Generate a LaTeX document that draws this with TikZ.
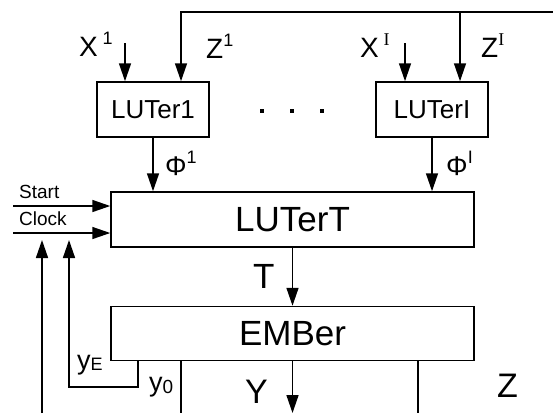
\documentclass[tikz,border=0pt]{standalone}
\usepackage{fontspec}
\setmainfont{Liberation Sans}
\newfontfamily\serifI{Liberation Serif}
\usetikzlibrary{arrows.meta,positioning}

\newcommand{\fsize}[1]{\fontsize{#1}{#1}\selectfont}
\newcommand{\upidx}[1]{\raisebox{0.42em}{\fsize{18}#1}}

\begin{document}
\begin{tikzpicture}[x=1pt, y=-1pt,
    block/.style={rectangle, draw=black, line width=1.5pt, inner sep=0pt, align=center},
    smallblock/.style={block, minimum width=112pt, minimum height=55pt, font=\fsize{26}},
    bigblock/.style={block, minimum width=363pt, minimum height=55pt, font=\fsize{35}},
    arrow/.style={-{Triangle[length=18pt,width=12pt]}, line width=1.5pt},
    wire/.style={line width=1.5pt},
    lbl/.style={inner sep=0pt, anchor=base west},
    node distance=58pt
]
\useasboundingbox (0,0) rectangle (553,413);

% Main blocks
\node[bigblock] (lutert) at (292.5,219.5) {LUTerT};
\node[bigblock, minimum height=54pt, below=of lutert] (ember) {EMBer};

% First level blocks
\node[smallblock] (luter1) at (153,109.5) {LUTer1};
\node[smallblock] (luterI) at (432,109.5) {LUTerI};

% Dots
\foreach \x in {262,292,322}
    \fill (\x-2.2,108.5) rectangle +(4.4,4.4);

% Inputs
\coordinate (x1) at (125,43);
\coordinate (xI) at (405,43);
\coordinate (z1) at (181,12);
\coordinate (zI) at (460,12);
\coordinate (zend) at (553,12);
\draw[arrow] (x1) -- (x1 |- luter1.north);
\draw[arrow] (xI) -- (xI |- luterI.north);
\draw[arrow] (zend) -- (z1) -- (z1 |- luter1.north);
\draw[arrow] (zI) -- (zI |- luterI.north);

\node[lbl, font=\fsize{28}] (lx1) at (79,56) {X\,\upidx{1}};
\node[lbl, font=\fsize{28}] (lz1) at (206,58) {Z\upidx{1}};
\node[lbl, font=\fsize{28}] (lxI) at (360,57) {X\,\upidx{\serifI I}};
\node[lbl, font=\fsize{28}] (lzI) at (481,57) {Z\upidx{\serifI I}};

% Phi outputs
\draw[arrow] (luter1) -- (luter1 |- lutert.north);
\draw[arrow] (luterI) -- (luterI |- lutert.north);
\node[lbl, font=\fsize{27}] (lphi1) at (165,175) {Φ\upidx{1}};
\node[lbl, font=\fsize{27}] (lphiI) at (446,175) {Φ\upidx{I}};

% Start and Clock
\coordinate (start) at (13,206);
\coordinate (clock) at (13,233);
\draw[arrow] (start) -- (start -| lutert.west);
\draw[arrow] (clock) -- (clock -| lutert.west);
\node[lbl, font=\fsize{19}] (lstart) at (19,198) {Start};
\node[lbl, font=\fsize{19}] (lclock) at (19,225) {Clock};

% T
\draw[arrow] (lutert) -- (ember);
\node[lbl, font=\fsize{35}] (lt) at (253,288) {T};

% Outputs of EMBer
\coordinate (yout) at (292.5,413);
\coordinate (zout) at (418,413);
\coordinate (y0) at (181,413);
\coordinate (ye) at (138,387);
\coordinate (yecorner) at (69,387);
\coordinate (yetip) at (69,240);
\coordinate (lft) at (42,413);
\coordinate (lfttip) at (42,240);
\draw[arrow] (ember) -- (yout);
\draw[wire] (ember.south -| zout) -- (zout);
\draw[wire] (ember.south -| y0) -- (y0);
\draw[arrow] (ember.south -| ye) -- (ye) -- (yecorner) -- (yetip);
\draw[arrow] (lft) -- (lfttip);

\node[lbl, font=\fsize{34}] (ly) at (245,403) {Y};
\node[lbl, font=\fsize{34}] (lz) at (497,397) {Z};
\node[lbl, font=\fsize{27}] (lye) at (77,369) {y\raisebox{-0.05em}{\fsize{18}E}};
\node[lbl, font=\fsize{27}] (ly0) at (149,391) {y\raisebox{-0.1em}{\fsize{19}0}};

\end{tikzpicture}
\end{document}
